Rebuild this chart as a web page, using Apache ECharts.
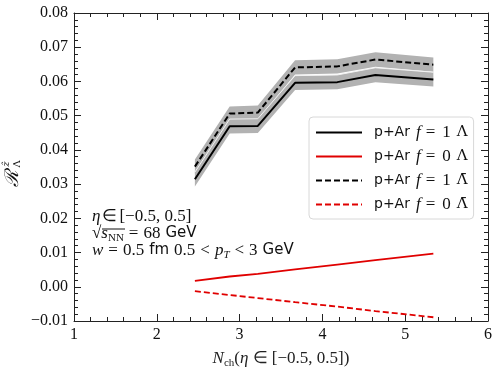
<!DOCTYPE html>
<html>
<head>
<meta charset="utf-8">
<script src="https://cdn.jsdelivr.net/npm/echarts@6/dist/echarts.min.js"></script>
<style>
  html, body { margin: 0; padding: 0; background: #fff; }
  #chart { width: 498px; height: 374px; }
</style>
</head>
<body>
<div id="chart"></div>
<script>
// N_ch 位置
var nch = [2.46, 2.88, 3.22, 3.67, 4.18, 4.64, 5.34]
// f = 1 Λ 与误差带
var lamF1 = [0.0314, 0.0469, 0.0470, 0.0596, 0.0598, 0.0619, 0.0606]
var lamF1Err = [0.0021, 0.0021, 0.0021, 0.0021, 0.0021, 0.0021, 0.0021]
// f = 1 反Λ 与误差带
var barF1 = [0.0351, 0.0506, 0.0509, 0.0641, 0.0644, 0.0664, 0.0649]
var barF1Err = [0.0021, 0.0021, 0.0021, 0.0021, 0.0021, 0.0021, 0.0021]
// f = 0
var lamF0 = [0.0017, 0.0030, 0.0038, 0.0051, 0.0065, 0.0078, 0.0097]
var barF0 = [-0.0013, -0.0024, -0.0033, -0.0045, -0.0058, -0.0071, -0.0089]

var xTicks = [1, 2, 3, 4, 5, 6]
var yTicks = [-0.01, 0, 0.01, 0.02, 0.03, 0.04, 0.05, 0.06, 0.07, 0.08]

var names = ['p+Ar f=1 Λ', 'p+Ar f=0 Λ', 'p+Ar f=1 Λ̄', 'p+Ar f=0 Λ̄']
var legendText = {
  'p+Ar f=1 Λ': '{a|p+Ar}{f|f}{e|=}{d|1}{L|Λ}',
  'p+Ar f=0 Λ': '{a|p+Ar}{f|f}{e|=}{d|0}{L|Λ}',
  'p+Ar f=1 Λ̄': '{a|p+Ar}{f|f}{e|=}{d|1}{L|Λ̄}',
  'p+Ar f=0 Λ̄': '{a|p+Ar}{f|f}{e|=}{d|0}{L|Λ̄}'
}

var serif = 'Liberation Serif'
var sans = 'DejaVu Sans'
var axisColor = '#222'
var bandColor = '#b2b2b2'

function pairs(ys) {
  return nch.map(function(x, i) { return [x, ys[i]] })
}

// 误差带：用坐标轴换算后画成多边形
function bandSeries(ys, err, z, edge) {
  return {
    type: 'custom',
    silent: true,
    z: z,
    encode: { x: 0, y: 1 },
    data: pairs(ys),
    renderItem: function(params, api) {
      if (params.dataIndex !== 0) return null
      var top = []
      var bottom = []
      for (var i = 0; i < nch.length; i++) {
        top.push(api.coord([nch[i], ys[i] + err[i]]))
        bottom.unshift(api.coord([nch[i], ys[i] - err[i]]))
      }
      var children = [{
        type: 'polygon',
        shape: { points: top.concat(bottom) },
        style: { fill: bandColor }
      }]
      if (edge) {
        children.push({
          type: 'polyline',
          shape: { points: top },
          style: { stroke: '#f2f2f2', lineWidth: 1, fill: null }
        })
      }
      return { type: 'group', children: children }
    }
  }
}

var chart = echarts.init(document.getElementById('chart'))

var baseX = {
  type: 'value',
  min: xTicks[0],
  max: xTicks[xTicks.length - 1],
  interval: 1,
  splitLine: { show: false },
  axisLine: { onZero: false, lineStyle: { color: axisColor, width: 1 } },
  axisTick: { inside: true, length: 7, lineStyle: { color: axisColor } },
  minorTick: { show: true, splitNumber: 5, length: 4, lineStyle: { color: axisColor } }
}
var baseY = {
  type: 'value',
  min: yTicks[0],
  max: yTicks[yTicks.length - 1],
  interval: 0.01,
  splitLine: { show: false },
  axisLine: { onZero: false, lineStyle: { color: axisColor, width: 1 } },
  axisTick: { inside: true, length: 7, lineStyle: { color: axisColor } },
  minorTick: { show: true, splitNumber: 5, length: 4, lineStyle: { color: axisColor } }
}

var mainRich = {
  i: { fontFamily: serif, fontStyle: 'italic', fontSize: 17, lineHeight: 20 },
  t: { fontFamily: serif, fontSize: 17, lineHeight: 20 },
  r: { fontFamily: serif, fontSize: 17, lineHeight: 20, padding: [0, 5, 0, 5] },
  r1: { fontFamily: serif, fontSize: 17, lineHeight: 20, padding: [0, 2, 0, 2] },
  g: { fontFamily: sans, fontSize: 15, lineHeight: 20, padding: [0, 5, 0, 5] },
  sub: { fontFamily: serif, fontSize: 11, lineHeight: 11, verticalAlign: 'bottom' },
  subi: { fontFamily: serif, fontStyle: 'italic', fontSize: 11, lineHeight: 11, verticalAlign: 'bottom' }
}

chart.setOption({
  backgroundColor: '#fff',
  animation: false,
  grid: { left: 74, right: 10, top: 13, bottom: 46 },
  xAxis: [
    Object.assign({}, baseX, {
      position: 'bottom',
      axisLabel: { fontFamily: serif, fontSize: 16, color: '#111', margin: 6 },
      name: '{i|N}{sub|ch}{t|(}{i|η}{t| ∈ [−0.5, 0.5])}',
      nameLocation: 'middle',
      nameGap: 28,
      nameTextStyle: { rich: mainRich }
    }),
    Object.assign({}, baseX, { position: 'top', axisLabel: { show: false } })
  ],
  yAxis: [
    Object.assign({}, baseY, {
      position: 'left',
      axisLabel: {
        fontFamily: serif, fontSize: 16, color: '#111', margin: 6,
        formatter: function(v) { return v.toFixed(2).replace('-', '−') }
      }
    }),
    Object.assign({}, baseY, { position: 'right', axisLabel: { show: false } })
  ],
  legend: {
    data: names,
    orient: 'vertical',
    left: 309,
    top: 117,
    padding: [7, 6, 6, 6],
    itemWidth: 46,
    itemHeight: 14,
    itemGap: 7,
    borderColor: '#d8d8d8',
    borderWidth: 1,
    borderRadius: 4,
    backgroundColor: 'rgba(255,255,255,0.85)',
    itemStyle: { opacity: 0 },
    formatter: function(name) { return legendText[name] },
    textStyle: {
      color: '#111',
      rich: {
        a: { fontFamily: sans, fontSize: 14, lineHeight: 18, padding: [0, 0, 0, 7] },
        f: { fontFamily: serif, fontStyle: 'italic', fontSize: 17, lineHeight: 18, padding: [0, 0, 0, 6] },
        e: { fontFamily: serif, fontSize: 17, lineHeight: 18, padding: [0, 0, 0, 5] },
        d: { fontFamily: serif, fontSize: 17, lineHeight: 18, padding: [0, 0, 0, 7] },
        L: { fontFamily: 'DejaVu Serif', fontSize: 15, lineHeight: 18, padding: [0, 0, 0, 6] }
      }
    }
  },
  graphic: [
    {
      type: 'text', left: 92, top: 208,
      style: { text: '{i|η}{r1|∈}{t|[−0.5, 0.5]}', rich: mainRich, fill: '#111' }
    },
    {
      type: 'text', left: 92, top: 225,
      style: { text: '{t|√}{i|s}{sub|NN}{r|=}{t|68}{g|GeV}', rich: mainRich, fill: '#111' }
    },
    {
      type: 'line', shape: { x1: 102, y1: 229, x2: 125, y2: 229 },
      style: { stroke: '#111', lineWidth: 1 }
    },
    {
      type: 'text', left: 92, top: 242,
      style: { text: '{i|w}{r|=}{t|0.5}{g|fm}{t|0.5}{r|<}{i|p}{subi|T}{r|<}{t|3}{g|GeV}', rich: mainRich, fill: '#111' }
    },
    {
      type: 'group', x: 13, y: 173, rotation: Math.PI / 2,
      children: [
        { type: 'text', x: -5, y: 0, style: { text: 'ℛ', font: 'italic 19px DejaVu Serif', fill: '#111', align: 'center', verticalAlign: 'middle' } },
        { type: 'text', x: 9, y: -7, style: { text: 'ẑ', font: 'italic 10px DejaVu Serif', fill: '#111', align: 'center', verticalAlign: 'middle' } },
        { type: 'text', x: 9, y: 4, style: { text: 'Λ', font: '10px DejaVu Serif', fill: '#111', align: 'center', verticalAlign: 'middle' } }
      ]
    }
  ],
  series: [
    bandSeries(barF1, barF1Err, 1, false),
    bandSeries(lamF1, lamF1Err, 2, true),
    {
      name: names[0], type: 'line', data: pairs(lamF1), symbol: 'none', z: 5,
      lineStyle: { color: '#000', width: 2 }, itemStyle: { color: '#000' }
    },
    {
      name: names[1], type: 'line', data: pairs(lamF0), symbol: 'none', z: 5,
      lineStyle: { color: '#e00000', width: 1.8 }, itemStyle: { color: '#e00000' }
    },
    {
      name: names[2], type: 'line', data: pairs(barF1), symbol: 'none', z: 5,
      lineStyle: { color: '#000', width: 2, type: [6, 3] }, itemStyle: { color: '#000' }
    },
    {
      name: names[3], type: 'line', data: pairs(barF0), symbol: 'none', z: 5,
      lineStyle: { color: '#e00000', width: 1.8, type: [6, 3] }, itemStyle: { color: '#e00000' }
    }
  ]
})
</script>
</body>
</html>
